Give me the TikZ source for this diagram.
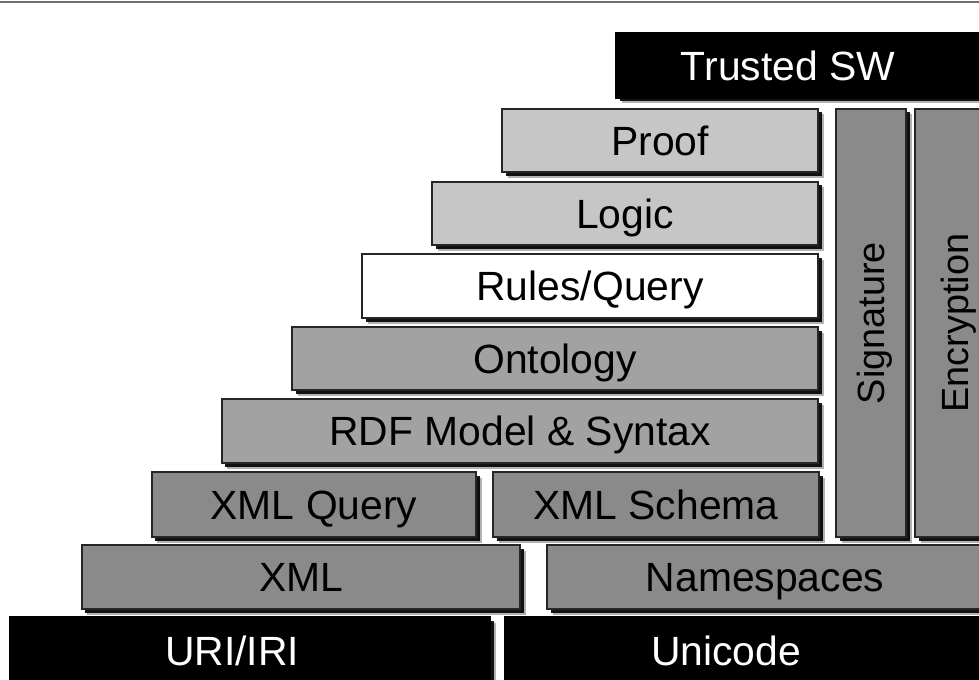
\documentclass[tikz,border=0pt]{standalone}
\usepackage{fontspec}
\setmainfont{Liberation Sans}
\usetikzlibrary{shadows}
\definecolor{lightg}{HTML}{C6C6C6}
\definecolor{midg}{HTML}{A2A2A2}
\definecolor{darkg}{HTML}{8A8A8A}
\definecolor{rule}{HTML}{707070}
\tikzset{
  layer/.style={draw=black!85, line width=1.3bp, rectangle, inner sep=0pt,
    font=\fontsize{41}{48}\selectfont, text=black,
    text height=29.4bp, text depth=0pt,
    drop shadow={shadow xshift=5.5bp, shadow yshift=-5.5bp, opacity=0.3, fill=black},
    drop shadow={shadow xshift=3.5bp, shadow yshift=-3.5bp, opacity=0.9, fill=black}},
  blackbox/.style={layer, fill=black, draw=black},
  labeltext/.style={font=\fontsize{41}{48}\selectfont, inner sep=0pt,
    text height=29.4bp, text depth=0pt},
  whitetext/.style={labeltext, text=white},
  vtext/.style={font=\fontsize{38}{44}\selectfont, text=black, rotate=90, inner sep=0pt,
    text height=27.2bp, text depth=0pt},
}
\begin{document}
\begin{tikzpicture}[x=1bp,y=-1bp]
\useasboundingbox (0,0) rectangle (979,680);
\fill[white] (0,0) rectangle (979,680);
\coordinate (tl) at (0,2);
\coordinate (tr) at (979,2);
\draw[rule, line width=2.2bp] (tl) -- (tr);
% columns
\node[layer, fill=darkg, minimum width=70bp, minimum height=428bp] (sig) at (871,323) {};
\node[vtext] (sigt) at (sig.center) {Signature};
\node[layer, fill=darkg, minimum width=80bp, minimum height=428bp] (enc) at (955,323) {};
\node[vtext] (enct) at (enc.center) {Encryption};
% top
\node[blackbox, minimum width=379bp, minimum height=65bp] (trusted) at (805.5,65.5) {};
\node[whitetext] (trustedt) at (788,66) {Trusted SW};
% stack
\node[layer, fill=lightg, minimum width=316bp, minimum height=63bp] (proof) at (660,140.5) {Proof};
\node[layer, fill=lightg, minimum width=386bp, minimum height=63bp] (logic) at (625,213.5) {Logic};
\node[layer, fill=white, minimum width=456bp, minimum height=64bp] (rules) at (590,286) {Rules/Query};
\node[layer, fill=midg, minimum width=526bp, minimum height=63bp] (onto) at (555,358.5) {Ontology};
\node[layer, fill=midg, minimum width=596bp, minimum height=64bp] (rdf) at (520,431) {RDF Model \& Syntax};
\node[layer, fill=darkg, minimum width=324bp, minimum height=65bp] (xmlq) at (314,504.5) {XML Query};
\node[layer, fill=darkg, minimum width=326bp, minimum height=65bp] (xmls) at (656,504.5) {XML Schema};
\node[layer, fill=darkg, minimum width=438bp, minimum height=64bp] (xml) at (301,577) {XML};
\node[layer, fill=darkg, minimum width=448bp, minimum height=64bp] (ns) at (771,577) {};
\node[labeltext] (nst) at (765,577) {Namespaces};
\node[blackbox, minimum width=480bp, minimum height=64bp] (uri) at (250,649) {};
\node[whitetext] (urit) at (232,651) {URI/IRI};
\node[blackbox, minimum width=490bp, minimum height=64bp] (uni) at (750,649) {};
\node[whitetext] (unit) at (726,651) {Unicode};
\end{tikzpicture}
\end{document}
